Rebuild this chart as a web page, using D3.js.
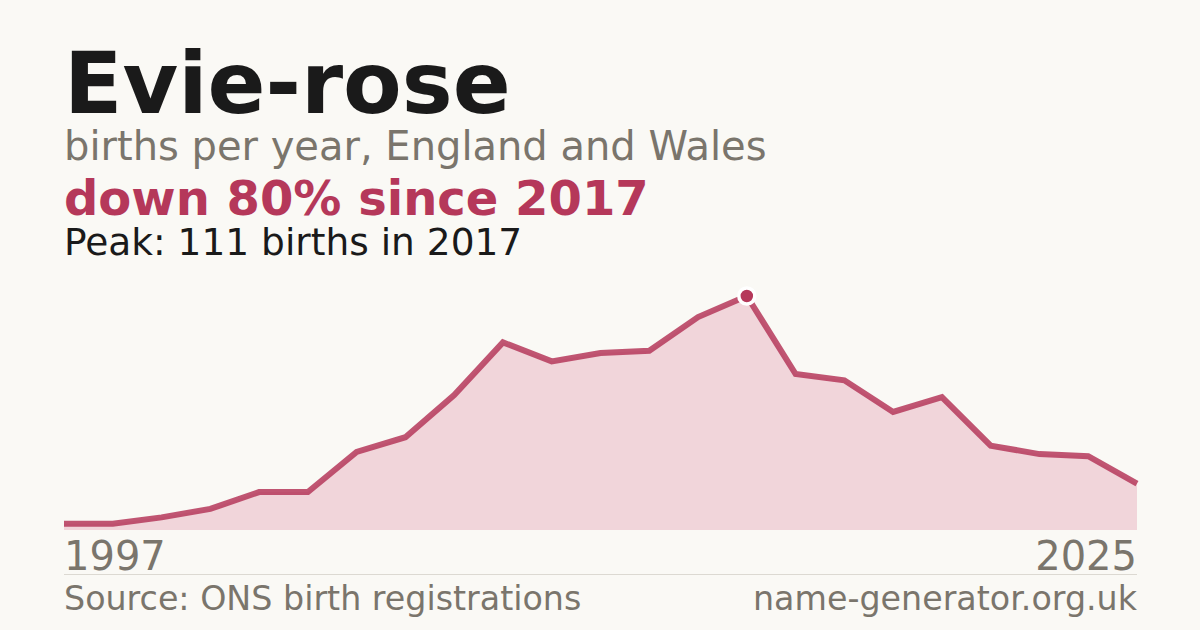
<!DOCTYPE html>
<html>
<head>
<meta charset="utf-8">
<script src="https://cdn.jsdelivr.net/npm/d3@7"></script>
<style>
  html, body { margin: 0; padding: 0; background: #faf9f5; }
  svg { display: block; font-family: "DejaVu Sans", sans-serif; }
</style>
</head>
<body>
<div id="svg-area"></div>
<script>
// chart data
var years = [1997, 2004, 2005, 2006, 2007, 2008, 2009, 2010, 2011, 2012, 2013, 2014,
             2015, 2016, 2017, 2018, 2019, 2020, 2021, 2022, 2023, 2024, 2025];
var births = [3, 3, 6, 10, 18, 18, 37, 44, 64, 89, 80, 84,
              85, 101, 111, 74, 71, 56, 63, 40, 36, 35, 22];
var firstLabel = "1997";
var lastLabel = "2025";
var peakYear = 2017;

var svgWidth = 1200;
var svgHeight = 630;

var margin = { left: 64, right: 63, top: 296, bottom: 100 };
var width = svgWidth - margin.left - margin.right;
var plotBottom = 530;

var accent = "#b5385a";
var grey = "#7a756c";

var svg = d3.select("#svg-area")
    .append("svg")
    .attr("width", svgWidth)
    .attr("height", svgHeight)
;

svg.append("rect")
    .attr("width", svgWidth)
    .attr("height", svgHeight)
    .attr("fill", "#faf9f5")
;

// scales
var xScale = d3.scalePoint()
    .domain(years)
    .range([margin.left, margin.left + width])
;

var yScale = d3.scaleLinear()
    .domain([0, d3.max(births)])
    .range([plotBottom, margin.top])
;

var points = years.map(function(y, i) { return { year: y, value: births[i] }; });

// area under the line
var area = d3.area()
    .x(d => xScale(d.year))
    .y0(yScale(0))
    .y1(d => yScale(d.value))
;

svg.append("path")
    .datum(points)
    .attr("d", area)
    .attr("fill", "#f1d5da")
;

// the line itself
var line = d3.line()
    .x(d => xScale(d.year))
    .y(d => yScale(d.value))
;

svg.append("path")
    .datum(points)
    .attr("d", line)
    .attr("fill", "none")
    .attr("stroke", accent)
    .attr("stroke-width", 6)
    .attr("stroke-linejoin", "miter")
    .attr("opacity", 0.85)
;

// peak marker
var peak = points.find(d => d.year === peakYear);
svg.append("circle")
    .attr("cx", xScale(peak.year))
    .attr("cy", yScale(peak.value))
    .attr("r", 8)
    .attr("fill", accent)
    .attr("stroke", "#ffffff")
    .attr("stroke-width", 3.5)
;

// titles
svg.append("text")
    .attr("x", 64)
    .attr("y", 113)
    .attr("font-size", 85.5)
    .attr("font-weight", "bold")
    .attr("fill", "#1a1a1a")
    .text("Evie-rose")
;

svg.append("text")
    .attr("x", 64)
    .attr("y", 160)
    .attr("font-size", 40)
    .attr("fill", grey)
    .text("births per year, England and Wales")
;

svg.append("text")
    .attr("x", 64)
    .attr("y", 215)
    .attr("font-size", 48)
    .attr("font-weight", "bold")
    .attr("fill", accent)
    .text("down 80% since 2017")
;

svg.append("text")
    .attr("x", 64)
    .attr("y", 255)
    .attr("font-size", 37.5)
    .attr("fill", "#1a1a1a")
    .text("Peak: 111 births in 2017")
;

// year labels at the ends
svg.append("text")
    .attr("x", xScale(years[0]))
    .attr("y", 570)
    .attr("font-size", 40)
    .attr("fill", grey)
    .text(firstLabel)
;

svg.append("text")
    .attr("x", xScale(years[years.length - 1]))
    .attr("y", 570)
    .attr("font-size", 40)
    .attr("fill", grey)
    .attr("text-anchor", "end")
    .text(lastLabel)
;

// footer
svg.append("line")
    .attr("x1", margin.left)
    .attr("x2", margin.left + width)
    .attr("y1", 574.5)
    .attr("y2", 574.5)
    .attr("stroke", "#dcd9d2")
    .attr("stroke-width", 1)
;

svg.append("text")
    .attr("x", 64)
    .attr("y", 610)
    .attr("font-size", 33.3)
    .attr("fill", grey)
    .text("Source: ONS birth registrations")
;

svg.append("text")
    .attr("x", margin.left + width)
    .attr("y", 610)
    .attr("font-size", 33.3)
    .attr("fill", grey)
    .attr("text-anchor", "end")
    .text("name-generator.org.uk")
;
</script>
</body>
</html>
